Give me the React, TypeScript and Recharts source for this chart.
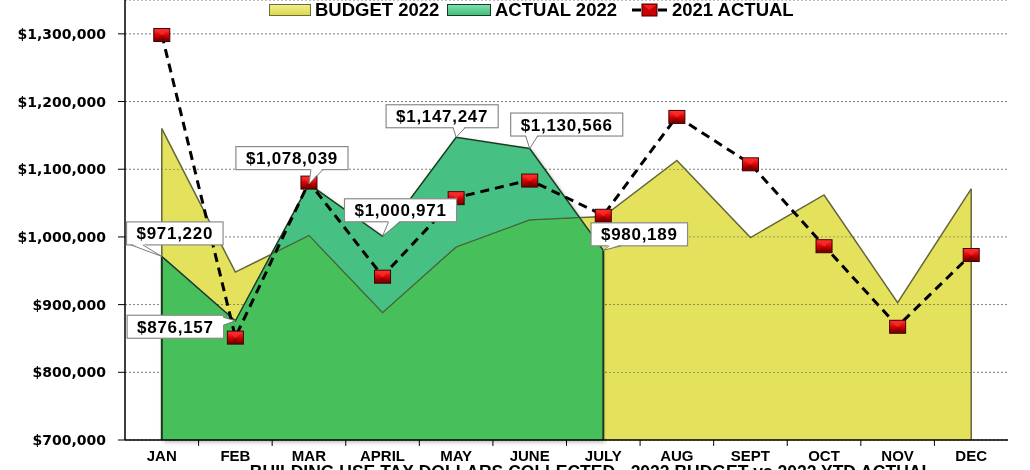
import React from 'react';
import {
  ComposedChart,
  Area,
  Line,
  XAxis,
  YAxis,
  CartesianGrid,
  Legend,
  LabelList,
  ReferenceLine,
} from 'recharts';

// ---------------- data ----------------
const months = ['JAN', 'FEB', 'MAR', 'APRIL', 'MAY', 'JUNE', 'JULY', 'AUG', 'SEPT', 'OCT', 'NOV', 'DEC'];
const budget2022 = [1160000, 948000, 1002000, 888000, 985000, 1025000, 1030000, 1113000, 999000, 1062000, 903000, 1071000];
const actual2022: (number | null)[] = [971220, 876157, 1078039, 1000971, 1147247, 1130566, 980189, null, null, null, null, null];
const actual2021 = [1299000, 852000, 1081000, 942000, 1058000, 1084000, 1032000, 1178000, 1108000, 987000, 868000, 974000];
const yTicks = [700000, 800000, 900000, 1000000, 1100000, 1200000, 1300000];
const chartTitle = 'BUILDING USE TAX DOLLARS COLLECTED - 2022 BUDGET vs 2022 YTD ACTUAL';

const data = months.map((m, i) => ({
  month: m,
  budget: budget2022[i],
  actual: actual2022[i],
  prior: actual2021[i],
}));

// ---------------- layout ----------------
const CHART_W = 1030;
const CHART_H = 490;
const MARGIN = { top: 0, right: 22, bottom: 20, left: 0 };
const Y_AXIS_W = 125;
const PLOT_W = CHART_W - MARGIN.left - MARGIN.right - Y_AXIS_W;
const HALF_BAND = PLOT_W / months.length / 2;

const ARIAL = '"Liberation Sans", Arial, Helvetica, sans-serif';
const VERDANA = '"DejaVu Sans", Verdana, sans-serif';

const YELLOW = '#e4e25c';
const YELLOW_EDGE = '#65653a';
const TEAL = '#47c083';
const TEAL_EDGE = '#1d3a20';

// label callout offsets (box centre relative to point) and pointer base shift
const labelOffsets: [number, number, number][] = [
  [13, -23, -25],
  [-60, 6, 0],
  [-17, -26, 8],
  [18, -26, 12],
  [-14, -21, 3],
  [37, -24, 2],
  [36, -16, 12],
];

let measureCtx: CanvasRenderingContext2D | null = null;
function measure(text: string, font: string): number {
  if (!measureCtx) {
    const c = document.createElement('canvas');
    measureCtx = c.getContext('2d');
  }
  if (!measureCtx) return text.length * 9.5;
  measureCtx.font = font;
  return measureCtx.measureText(text).width;
}

const money = (v: number) => '$' + Number(v).toLocaleString('en-US');

function ValueLabel(props: any) {
  const { x, y, value, index } = props;
  if (value == null || x == null || y == null) return null;
  const [dx, dy, shift] = labelOffsets[index] ?? [0, -24, 0];
  const text = money(value);
  const fontSize = 17;
  const ls = 0.7;
  const tw = measure(text, `bold ${fontSize}px ${ARIAL}`) + ls * text.length;
  const w = tw + 20;
  const h = 23;
  const cx = x + dx;
  const cy = y + dy;
  const left = cx - w / 2;
  const top = cy - h / 2;
  const right = left + w;
  const bottom = top + h;
  let b1: [number, number];
  let b2: [number, number];
  let inner1: [number, number];
  let inner2: [number, number];
  if (Math.abs(dx) > w / 2) {
    const ex = dx < 0 ? right : left;
    const inset = dx < 0 ? -1.5 : 1.5;
    const by = Math.min(Math.max(y, top + 6), bottom - 6);
    b1 = [ex, by - 4];
    b2 = [ex, by + 4];
    inner1 = [ex + inset, by - 4];
    inner2 = [ex + inset, by + 4];
  } else {
    const ey = dy < 0 ? bottom : top;
    const inset = dy < 0 ? -1.5 : 1.5;
    const bx = Math.min(Math.max(x + shift, left + 9), right - 9);
    b1 = [bx - 6, ey];
    b2 = [bx + 6, ey];
    inner1 = [bx - 6, ey + inset];
    inner2 = [bx + 6, ey + inset];
  }
  return (
    <g>
      <rect x={left} y={top} width={w} height={h} fill="#fff" stroke="#8a8a8a" strokeWidth={1.2} />
      <polygon
        points={`${inner1[0]},${inner1[1]} ${x},${y} ${inner2[0]},${inner2[1]}`}
        fill="#fff"
        stroke="none"
      />
      <line x1={b1[0]} y1={b1[1]} x2={x} y2={y} stroke="#7a7a7a" strokeWidth={1} />
      <line x1={b2[0]} y1={b2[1]} x2={x} y2={y} stroke="#7a7a7a" strokeWidth={1} />
      <text
        x={cx}
        y={cy + 6}
        textAnchor="middle"
        fontFamily={ARIAL}
        fontWeight="bold"
        fontSize={fontSize}
        letterSpacing={ls}
        fill="#000"
      >
        {text}
      </text>
    </g>
  );
}

function Marker(props: any) {
  const { cx, cy } = props;
  if (cx == null || cy == null) return null;
  return (
    <g>
      <rect x={cx - 8} y={cy - 6} width={16} height={13} fill="url(#mkGrad)" stroke="#3d0000" strokeWidth={1} />
      <polygon points={`${cx - 7},${cy - 5} ${cx + 7},${cy - 5} ${cx},${cy + 1}`} fill="#ff2a2a" opacity={0.75} />
      <polygon points={`${cx - 7},${cy + 6} ${cx + 7},${cy + 6} ${cx},${cy + 1}`} fill="#7a0000" opacity={0.55} />
    </g>
  );
}

function XTick(props: any) {
  const { x, y, payload, index } = props;
  const axisY = y - 10;
  return (
    <g>
      <text
        x={x}
        y={y}
        dy="0.71em"
        textAnchor="middle"
        fontFamily={ARIAL}
        fontWeight="bold"
        fontSize={15}
        fill="#000"
      >
        {payload.value}
      </text>
      {index < months.length - 1 && (
        <line x1={x + HALF_BAND} x2={x + HALF_BAND} y1={axisY} y2={axisY + 6} stroke="#000" strokeWidth={1} />
      )}
    </g>
  );
}

function LegendContent() {
  const txt: React.CSSProperties = {
    position: 'absolute',
    top: 0,
    lineHeight: '19px',
    fontFamily: ARIAL,
    fontWeight: 'bold',
    fontSize: 18.5,
    color: '#000',
    whiteSpace: 'nowrap',
  };
  return (
    <div style={{ position: 'relative', width: CHART_W, height: 20 }}>
      <div
        style={{
          position: 'absolute',
          left: 269,
          top: 4,
          width: 42,
          height: 12,
          background: 'linear-gradient(#f0ee8a, #dcd950)',
          border: '1px solid #6b6b3a',
          boxSizing: 'border-box',
        }}
      />
      <span style={{ ...txt, left: 315 }}>BUDGET 2022</span>
      <div
        style={{
          position: 'absolute',
          left: 447,
          top: 4,
          width: 44,
          height: 12,
          background: 'linear-gradient(#7ee0ac, #3fbf7c)',
          border: '1px solid #1d3a20',
          boxSizing: 'border-box',
        }}
      />
      <span style={{ ...txt, left: 495 }}>ACTUAL 2022</span>
      <svg style={{ position: 'absolute', left: 631, top: 1 }} width={38} height={18}>
        <line x1={1} y1={9} x2={10} y2={9} stroke="#000" strokeWidth={3} />
        <line x1={27} y1={9} x2={36} y2={9} stroke="#000" strokeWidth={3} />
        <rect x={11} y={3} width={15} height={12} fill="#cc0000" stroke="#3d0000" strokeWidth={1} />
        <polygon points="12,4 25,4 18.5,9" fill="#ff2a2a" opacity={0.75} />
      </svg>
      <span style={{ ...txt, left: 672 }}>2021 ACTUAL</span>
    </div>
  );
}

export default function App() {
  return (
    <div
      style={{
        position: 'absolute',
        left: 0,
        top: 0,
        width: CHART_W,
        height: 470,
        overflow: 'hidden',
        background: '#fff',
      }}
    >
      <style>{`
        .actual-area .recharts-area-area { filter: drop-shadow(2px 2px 2px rgba(0,0,0,0.3)); }
        .recharts-area.budget-area { mix-blend-mode: darken; }
      `}</style>
      <ComposedChart width={CHART_W} height={CHART_H} data={data} margin={MARGIN}>
        <defs>
          <linearGradient id="mkGrad" x1="0" y1="0" x2="0" y2="1">
            <stop offset="0%" stopColor="#ff3b3b" />
            <stop offset="55%" stopColor="#d00000" />
            <stop offset="100%" stopColor="#6e0000" />
          </linearGradient>
        </defs>
        <CartesianGrid vertical={false} stroke="#7f7f7f" strokeDasharray="2 2" />
        <XAxis
          dataKey="month"
          interval={0}
          padding={{ left: HALF_BAND, right: HALF_BAND }}
          tickLine={false}
          tickSize={6}
          tickMargin={4}
          tick={<XTick />}
          axisLine={{ stroke: '#000', strokeWidth: 1.5 }}
          height={30}
        />
        <YAxis
          domain={[700000, 1350000]}
          ticks={yTicks}
          width={Y_AXIS_W}
          tickSize={7}
          tickMargin={12}
          tickFormatter={money}
          tick={{ fill: '#000', fontFamily: VERDANA, fontWeight: 'bold', fontSize: 14 }}
          tickLine={{ stroke: '#000' }}
          axisLine={{ stroke: '#000', strokeWidth: 1.5 }}
        />
        <Legend
          layout="vertical"
          align="center"
          verticalAlign="middle"
          wrapperStyle={{ top: 0, left: 0, width: CHART_W }}
          content={<LegendContent />}
        />
        <Area
          className="actual-area"
          type="linear"
          dataKey="actual"
          name="ACTUAL 2022"
          fill={TEAL}
          fillOpacity={1}
          stroke={TEAL_EDGE}
          strokeWidth={1.5}
          baseValue={700000}
          isAnimationActive={false}
          activeDot={false}
        />
        <Area
          className="budget-area"
          type="linear"
          dataKey="budget"
          name="BUDGET 2022"
          fill={YELLOW}
          fillOpacity={1}
          stroke={YELLOW_EDGE}
          strokeWidth={1.5}
          baseValue={700000}
          isAnimationActive={false}
          activeDot={false}
        />
        <ReferenceLine
          segment={[
            { x: months[0], y: 700000 },
            { x: months[0], y: budget2022[0] },
          ]}
          stroke={YELLOW_EDGE}
          strokeWidth={1.5}
        />
        <ReferenceLine
          segment={[
            { x: months[11], y: 700000 },
            { x: months[11], y: budget2022[11] },
          ]}
          stroke={YELLOW_EDGE}
          strokeWidth={1.5}
        />
        <ReferenceLine
          segment={[
            { x: months[0], y: 700000 },
            { x: months[0], y: actual2022[0] as number },
          ]}
          stroke={TEAL_EDGE}
          strokeWidth={2}
        />
        <ReferenceLine
          segment={[
            { x: months[6], y: 700000 },
            { x: months[6], y: actual2022[6] as number },
          ]}
          stroke={TEAL_EDGE}
          strokeWidth={2}
        />
        <Line
          type="linear"
          dataKey="prior"
          name="2021 ACTUAL"
          stroke="#000"
          strokeWidth={3}
          strokeDasharray="9 6"
          dot={(p: any) => <Marker key={`m-${p.index}`} {...p} />}
          activeDot={false}
          isAnimationActive={false}
        />
        <Area
          type="linear"
          dataKey="actual"
          fill="none"
          stroke="none"
          legendType="none"
          isAnimationActive={false}
          activeDot={false}
        >
          <LabelList dataKey="actual" content={(p: any) => <ValueLabel {...p} />} />
        </Area>
      </ComposedChart>
      <div
        style={{
          position: 'absolute',
          left: 91,
          top: 464,
          width: 1000,
          textAlign: 'center',
          fontFamily: ARIAL,
          fontWeight: 'bold',
          fontSize: 17.5,
          lineHeight: '16px',
          color: '#000',
          whiteSpace: 'nowrap',
        }}
      >
        {chartTitle}
      </div>
    </div>
  );
}
